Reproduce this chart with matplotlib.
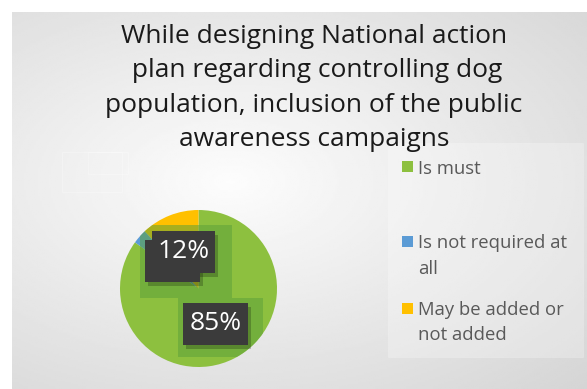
import numpy as np
import matplotlib.pyplot as plt
from matplotlib.patches import Rectangle, Circle

categories = ['Is must', 'Is not required at\nall', 'May be added or\nnot added']
shares = [85, 3, 12]
colors = ['#8dc03f', '#5b9bd5', '#ffc000']
title = ('While designing National action\n plan regarding controlling dog\n'
         'population, inclusion of the public\nawareness campaigns')

W, H = 587, 389
fig = plt.figure(figsize=(W / 100, H / 100), dpi=100, facecolor='white')
plt.rcParams['font.family'] = ['Open Sans', 'DejaVu Sans']

# gray backdrop with a soft light spot
bg = fig.add_axes([12 / W, 0, (W - 12) / W, (H - 12) / H])
yy, xx = np.mgrid[0:1:200j, 0:1:300j]
d = np.sqrt(((xx - 0.38) / 0.9) ** 2 + ((yy - 0.55) / 0.8) ** 2)
shade = np.clip(0.99 - 0.16 * d, 0.82, 1.0)
bg.imshow(shade, cmap='gray', vmin=0, vmax=1, aspect='auto',
          extent=[0, 1, 0, 1], origin='lower')
bg.set_xlim(0, 1)
bg.set_ylim(0, 1)
bg.axis('off')

# legend panel
bg.add_patch(Rectangle(((388 - 12) / (W - 12), (H - 357) / (H - 12)),
                       195 / (W - 12), 214 / (H - 12),
                       facecolor='white', alpha=0.25, edgecolor='white', lw=0.5))
for (x0, y0, w, h) in [(62, 152, 60, 40), (88, 152, 40, 22)]:
    bg.add_patch(Rectangle(((x0 - 12) / (W - 12), (H - y0 - h) / (H - 12)),
                           w / (W - 12), h / (H - 12), facecolor='none',
                           edgecolor='white', lw=0.6, alpha=0.3))

fig.text(314 / W, 1 - 88 / H, title, ha='center', va='center',
         fontsize=19, color='#1a1a1a', linespacing=1.5)

# pie
cx, cy, r = 198.5, 288.5, 78.5
ax = fig.add_axes([(cx - r) / W, (H - cy - r) / H, 2 * r / W, 2 * r / H])
wedges, _ = ax.pie(shares, colors=colors, startangle=90, counterclock=False,
                   radius=1, wedgeprops=dict(linewidth=0))
ax.set_xlim(-1, 1)
ax.set_ylim(-1, 1)
ax.set_aspect('equal')
ax.axis('off')


def px_box(x0, y0, x1, y1):
    # pixel box (top-left origin) -> pie data coords
    return ((x0 - cx) / r, (cy - y1) / r, (x1 - x0) / r, (y1 - y0) / r)


# darker panels behind the labels, kept inside the disc
disc = Circle((0, 0), 1, transform=ax.transData)
for b in [(140, 225, 232, 298), (178, 298, 263, 357)]:
    x, y, w, h = px_box(*b)
    p = ax.add_patch(Rectangle((x, y), w, h, facecolor='#5ea23a',
                               alpha=0.55, edgecolor='none'))
    p.set_clip_path(disc)
ax.plot([-0.02, -0.02], [-0.02, 0.2], color='#c08a1a', lw=1.5, zorder=0.9)

# label boxes: (slice index, box in pixels); the small slice's box sits underneath
label_boxes = [(1, (145, 240, 200, 282)), (2, (152, 231, 215, 273)),
               (0, (183, 303, 248, 345))]
for i, b in label_boxes:
    x, y, w, h = px_box(*b)
    ax.add_patch(Rectangle((x + 3 / r, y - 4 / r), w, h, facecolor='black',
                           alpha=0.22, edgecolor='none', clip_on=False, zorder=1))
for i, b in label_boxes:
    x, y, w, h = px_box(*b)
    ax.add_patch(Rectangle((x, y), w, h, facecolor='#3b3b3b',
                           edgecolor='none', clip_on=False, zorder=2))
    if shares[i] >= 5:
        ax.text(x + w / 2, y + h / 2, f'{shares[i]}%', ha='center',
                va='center', fontsize=19, color='white', clip_on=False,
                zorder=3)

# legend entries
leg_y = [166.5, 241.5, 308]
for name, col, y in zip(categories, colors, leg_y):
    fig.patches.append(Rectangle((402 / W, 1 - (y + 5.5) / H), 11 / W, 11 / H,
                                 facecolor=col, edgecolor='none',
                                 transform=fig.transFigure, figure=fig))
    fig.text(418 / W, 1 - (y - 7) / H, name, ha='left', va='top',
             fontsize=13.3, color='#595959', linespacing=1.5)

fig.savefig('out.png', dpi=100, facecolor='white')
